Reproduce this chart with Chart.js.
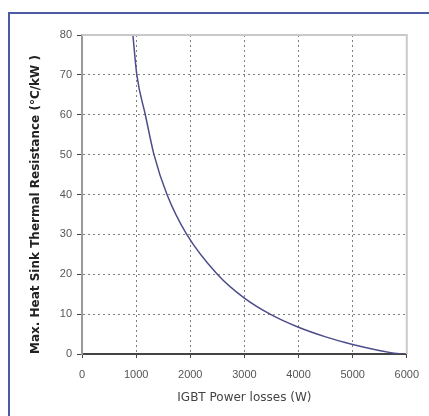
<!DOCTYPE html>
<html>
<head>
<meta charset="utf-8">
<script src="https://cdn.jsdelivr.net/npm/chart.js@4/dist/chart.umd.min.js"></script>
<style>
  html, body { margin: 0; padding: 0; background: #fff; }
  #wrap { position: relative; width: 429px; height: 416px; }
</style>
</head>
<body>
<div id="wrap"><canvas id="mycanvas" width="429" height="416"></canvas></div>
<script>
// values
var powerLoss = [940, 1013, 1170, 1330, 1570, 1935, 2500, 3000, 3500, 4000, 4500, 5000, 5490, 5820, 6000];
var maxRth = [80, 70, 60, 50, 40, 30, 20, 14, 9.8, 6.7, 4.3, 2.4, 0.9, 0.1, 0];
var xTicks = [0, 1000, 2000, 3000, 4000, 5000, 6000];
var yTicks = [0, 10, 20, 30, 40, 50, 60, 70, 80];

var points = [];
for (var i in powerLoss) {
	points.push({x: powerLoss[i], y: maxRth[i]});
}

// blue page frame + light plot box
var framePlugin = {
	id: 'frame',
	beforeDraw: function(chart) {
		var c = chart.ctx;
		c.save();
		c.strokeStyle = '#4b5ba6';
		c.lineWidth = 2;
		c.beginPath();
		c.moveTo(9, 416);
		c.lineTo(9, 13);
		c.lineTo(429, 13);
		c.stroke();
		c.restore();
	},
	afterDatasetsDraw: function(chart) {
		var a = chart.chartArea;
		var c = chart.ctx;
		c.save();
		c.strokeStyle = '#c9c9c9';
		c.lineWidth = 2;
		c.beginPath();
		c.moveTo(a.left, a.top);
		c.lineTo(a.right, a.top);
		c.lineTo(a.right, a.bottom);
		c.stroke();
		c.restore();
	}
};

var ctx = document.getElementById('mycanvas');

var LineGraph = new Chart(ctx, {
	type: 'line',
	data: {
		datasets: [{
			data: points,
			borderColor: '#4d4d8c',
			borderWidth: 1.5,
			pointRadius: 0,
			fill: false,
			cubicInterpolationMode: 'monotone'
		}]
	},
	options: {
		responsive: false,
		animation: false,
		plugins: { legend: { display: false }, tooltip: { enabled: false } },
		layout: { padding: { left: 0, top: 35, right: 21, bottom: 0 } },
		scales: {
			x: {
				type: 'linear',
				min: 0,
				max: 6000,
				afterBuildTicks: function(scale) {
					scale.ticks = xTicks.map(function(v) { return {value: v}; });
				},
				afterFit: function(scale) { scale.height = 62; },
				ticks: {
					color: '#555',
					font: { family: 'Liberation Sans, Arial', size: 11 },
					padding: 10,
					maxRotation: 0,
					callback: function(v) { return String(v); }
				},
				grid: { color: '#808080', lineWidth: 1, tickLength: 4, tickColor: '#444', tickBorderDash: [] },
				border: { display: true, color: '#444', width: 2, dash: [2, 3] },
				title: {
					display: true,
					text: 'IGBT Power losses (W)',
					color: '#444',
					font: { family: 'DejaVu Sans', size: 12 },
					padding: { top: 0, bottom: 11 }
				}
			},
			y: {
				type: 'linear',
				min: 0,
				max: 80,
				afterBuildTicks: function(scale) {
					scale.ticks = yTicks.map(function(v) { return {value: v}; });
				},
				afterFit: function(scale) { scale.width = 82; },
				ticks: {
					color: '#555',
					font: { family: 'Liberation Sans, Arial', size: 11 },
					padding: 5,
					callback: function(v) { return String(v); }
				},
				grid: { color: '#808080', lineWidth: 1, tickLength: 5, tickColor: '#444', tickBorderDash: [] },
				border: { display: true, color: '#9a9a9a', width: 2, dash: [2, 3] },
				title: {
					display: true,
					align: 'start',
					text: 'Max. Heat Sink Thermal Resistance (°C/kW )',
					color: '#222',
					font: { family: 'DejaVu Sans', size: 12, weight: 'bold' },
					padding: { top: 29, bottom: 0 }
				}
			}
		}
	},
	plugins: [framePlugin]
});
</script>
</body>
</html>
